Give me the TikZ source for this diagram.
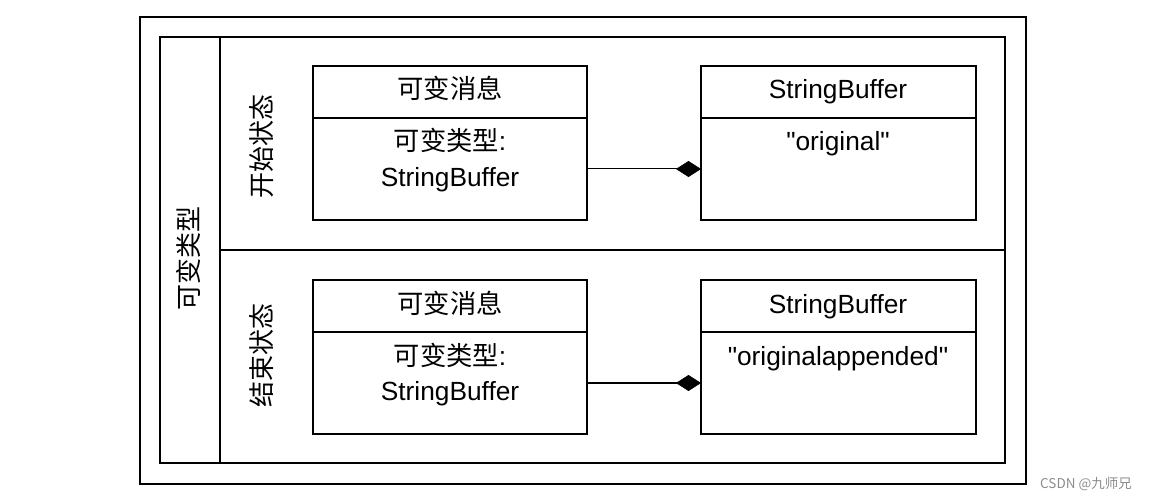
\documentclass[tikz,border=0pt]{standalone}
\usepackage{fontspec}
\newfontfamily\latinf{Liberation Sans}
\newfontfamily\cjk{Noto Sans CJK SC}
\usetikzlibrary{arrows.meta}
\begin{document}
\begin{tikzpicture}[x=1pt,y=-1pt,
  frame/.style={draw, line width=1.5pt, inner sep=0pt, outer sep=0pt, anchor=north west},
  lbl/.style={font=\latinf\fontsize{26.3}{30}\selectfont, inner sep=0pt, anchor=base},
  side/.style={font=\cjk\fontsize{26}{30}\selectfont, inner sep=0pt, rotate=90, anchor=center},
  conn/.style={-{Diamond[length=25pt,width=16pt,line width=0.6pt]}}
]
\useasboundingbox (0,0) rectangle (1154,500);
% frames
\node[frame, line width=1.8pt, minimum width=886pt, minimum height=467pt] (outer) at (140,17) {};
\node[frame, minimum width=845pt, minimum height=426pt] (inner) at (160,37) {};
\node[frame, minimum width=60pt, minimum height=426pt] (col) at (160,37) {};
\node[frame, minimum width=785pt, minimum height=213pt] (rowtop) at (220,37) {};
\node[frame, minimum width=785pt, minimum height=213pt] (rowbot) at (220,250) {};
% side labels
\node[side] (lblmain) at (189,258) {可变类型};
\node[side] (lblstart) at (262,146) {开始状态};
\node[side] (lblend) at (262,355) {结束状态};
% top boxes
\node[frame, minimum width=274pt, minimum height=52pt] (tlh) at (313,66) {};
\node[frame, minimum width=274pt, minimum height=102pt] (tlb) at (313,118) {};
\node[frame, minimum width=275pt, minimum height=52pt] (trh) at (701,66) {};
\node[frame, minimum width=275pt, minimum height=102pt] (trb) at (701,118) {};
% bottom boxes
\node[frame, minimum width=274pt, minimum height=52pt] (blh) at (313,280) {};
\node[frame, minimum width=274pt, minimum height=102pt] (blb) at (313,332) {};
\node[frame, minimum width=275pt, minimum height=52pt] (brh) at (701,280) {};
\node[frame, minimum width=275pt, minimum height=102pt] (brb) at (701,332) {};
% texts top
\node[lbl] (t1) at (450,99) {\cjk 可变消息};
\node[lbl] (t2) at (450,151) {{\cjk 可变类型}:};
\node[lbl] (t3) at (450,186) {StringBuffer};
\node[lbl] (t4) at (838,99) {StringBuffer};
\node[lbl] (t5) at (838,151) {"original"};
% texts bottom
\node[lbl] (b1) at (450,313) {\cjk 可变消息};
\node[lbl] (b2) at (450,365) {{\cjk 可变类型}:};
\node[lbl] (b3) at (450,400) {StringBuffer};
\node[lbl] (b4) at (838,313) {StringBuffer};
\node[lbl] (b5) at (838,365) {"originalappended"};
% connectors
\draw[conn, line width=1pt] (tlb) -- (trb);
\draw[conn, line width=2pt] (blb) -- (brb);
% watermark
\node[font=\cjk\fontsize{13.5}{15}\selectfont, text=black!45, inner sep=0pt] (wm) at (1086,484) {CSDN @九师兄};
\end{tikzpicture}
\end{document}
